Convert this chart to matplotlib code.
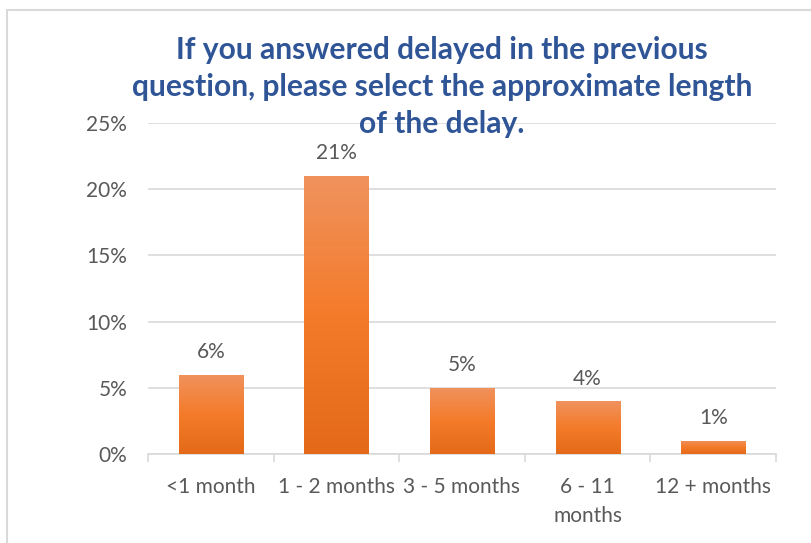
import numpy as np
import matplotlib.pyplot as plt
from matplotlib.patches import Rectangle
from matplotlib import font_manager

categories = ['<1 month', '1 - 2 months', '3 - 5 months', '6 - 11\nmonths', '12 + months']
values = [6, 21, 5, 4, 1]
value_labels = ['6%', '21%', '5%', '4%', '1%']
y_ticks = [0, 5, 10, 15, 20, 25]
y_tick_labels = ['0%', '5%', '10%', '15%', '20%', '25%']
title = 'If you answered delayed in the previous\nquestion, please select the approximate length\nof the delay.'

names = {f.name for f in font_manager.fontManager.ttflist}
title_font = 'Liberation Sans Narrow' if 'Liberation Sans Narrow' in names else 'Lato'
label_font = 'Lato'

grid_col = '#D9D9D9'
text_col = '#595959'
title_col = '#2F5597'

fig = plt.figure(figsize=(8.12, 5.43), dpi=100)
ax = fig.add_axes([148 / 812, 1 - 454 / 543, 628 / 812, 331 / 543])

# frame around the chart area
fig.patches.append(Rectangle((7 / 812, -0.1), 1.2, 1 - 10 / 543 + 0.1,
                             transform=fig.transFigure, fill=False,
                             edgecolor='#D9D9D9', linewidth=1.5))

x = np.arange(len(categories))
bars = ax.bar(x, values, width=0.51, color='#F47C2C', zorder=2)

# vertical gradient on each bar
grad = np.linspace(0, 1, 256).reshape(-1, 1)
cmap = plt.matplotlib.colors.LinearSegmentedColormap.from_list(
    'og', ['#E46A1A', '#F47B2A', '#F0925E'])
for b in bars:
    x0, w, h = b.get_x(), b.get_width(), b.get_height()
    im = ax.imshow(grad, extent=(x0, x0 + w, 0, h), origin='lower', cmap=cmap,
                   aspect='auto', zorder=3)
    im.set_clip_path(b)

for xi, v, lab in zip(x, values, value_labels):
    ax.annotate(lab, (xi, v), xytext=(0, 9), textcoords='offset points',
                ha='center', va='bottom', fontsize=15, color=text_col,
                family=label_font)

ax.set_xlim(-0.5, len(categories) - 0.5)
ax.set_ylim(0, 25)
ax.set_yticks(y_ticks)
ax.set_yticklabels(y_tick_labels, fontsize=15, color=text_col, family=label_font)
ax.yaxis.grid(True, color=grid_col, linewidth=1.2, zorder=0)
ax.set_axisbelow(True)
ax.tick_params(axis='y', length=0, pad=15)

ax.set_xticks(x)
ax.set_xticklabels([])
ax.set_xticks(np.arange(len(categories) + 1) - 0.5, minor=True)
ax.tick_params(axis='x', which='major', length=0)
ax.tick_params(axis='x', which='minor', length=6, color=grid_col, width=1.2)
for xi, lab in zip(x, categories):
    ax.text(xi, -1.75, lab, ha='center', va='top', fontsize=15, color=text_col,
            family=label_font, linespacing=1.55)

for s in ['top', 'right', 'left']:
    ax.spines[s].set_visible(False)
ax.spines['bottom'].set_color(grid_col)
ax.spines['bottom'].set_linewidth(1.2)

fig.text(442 / 812, 1 - 87 / 543, title, ha='center', va='center',
         fontsize=21.6, fontweight='bold', color=title_col, family=title_font,
         linespacing=1.38, zorder=10)

fig.savefig('out.png', dpi=100)
